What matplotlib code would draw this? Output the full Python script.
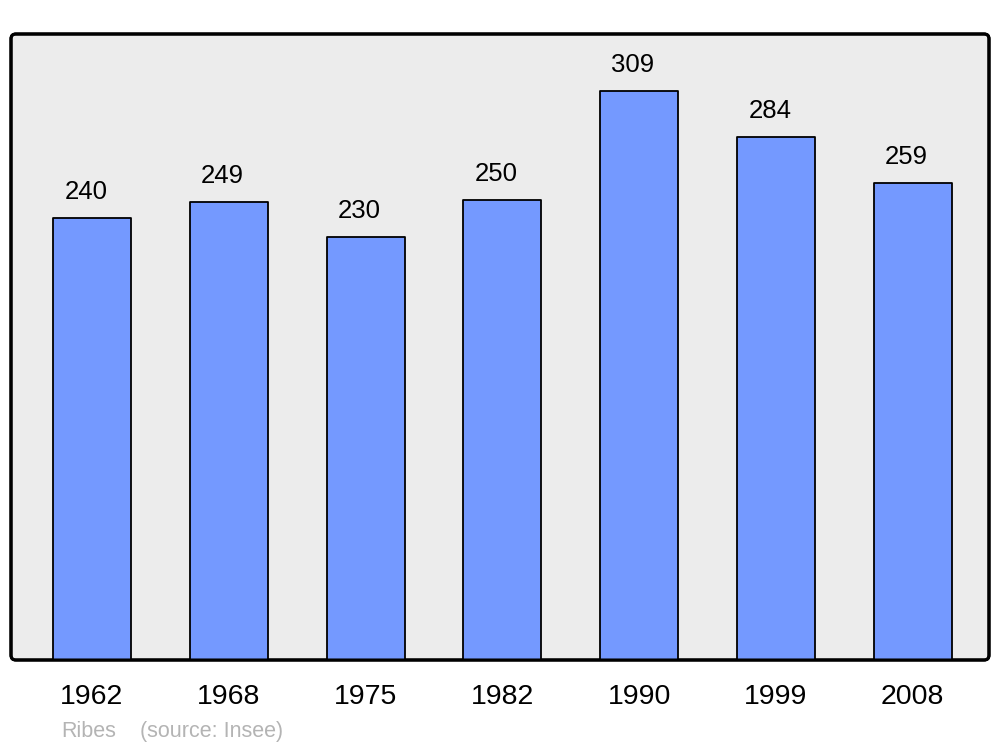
import numpy as np
import matplotlib
matplotlib.use('Agg')
from matplotlib import pyplot as plt
from matplotlib.patches import FancyBboxPatch

# donnees
years = ['1962', '1968', '1975', '1982', '1990', '1999', '2008']
population = [240, 249, 230, 250, 309, 284, 259]

plt.rcParams['font.family'] = ['Liberation Sans', 'DejaVu Sans']

fig = plt.figure(figsize=(10, 7.47), dpi=100)
ax = fig.add_axes([0.011, 87/747, 0.978, 626/747])

x = np.arange(len(years))
ax.bar(x, population, 0.57, color='#7499ff', edgecolor='black',
       linewidth=1.3, joinstyle='round', zorder=2)

for i, v in enumerate(population):
    ax.text(i - 0.045, v + 14, str(v), ha='center', va='center', fontsize=18.5)

ax.set_xlim(-0.592, 6.557)
ax.set_ylim(0, 340)
ax.set_xticks(x)
ax.set_xticklabels(years, fontsize=20.5)
ax.tick_params(axis='x', length=0, pad=17.5)
ax.set_yticks([])
ax.patch.set_visible(False)
for s in ax.spines.values():
    s.set_visible(False)

# cadre arrondi
cadre = FancyBboxPatch((0, 0), 1, 1, boxstyle='round,pad=0,rounding_size=0.005',
                       mutation_aspect=978/626, transform=ax.transAxes,
                       facecolor='#ececec', edgecolor='black', linewidth=2.2,
                       zorder=0, clip_on=False)
ax.add_patch(cadre)
cadre2 = FancyBboxPatch((0, 0), 1, 1, boxstyle='round,pad=0,rounding_size=0.005',
                        mutation_aspect=978/626, transform=ax.transAxes,
                        facecolor='none', edgecolor='black', linewidth=2.2,
                        zorder=3, clip_on=False)
ax.add_patch(cadre2)

fig.text(0.061, 1 - 737/747, 'Ribes', color='#b4b4b4', fontsize=15.5, va='baseline')
fig.text(0.140, 1 - 737/747, '(source: Insee)', color='#b4b4b4', fontsize=15.5, va='baseline')

plt.savefig('out.png', dpi=100)
